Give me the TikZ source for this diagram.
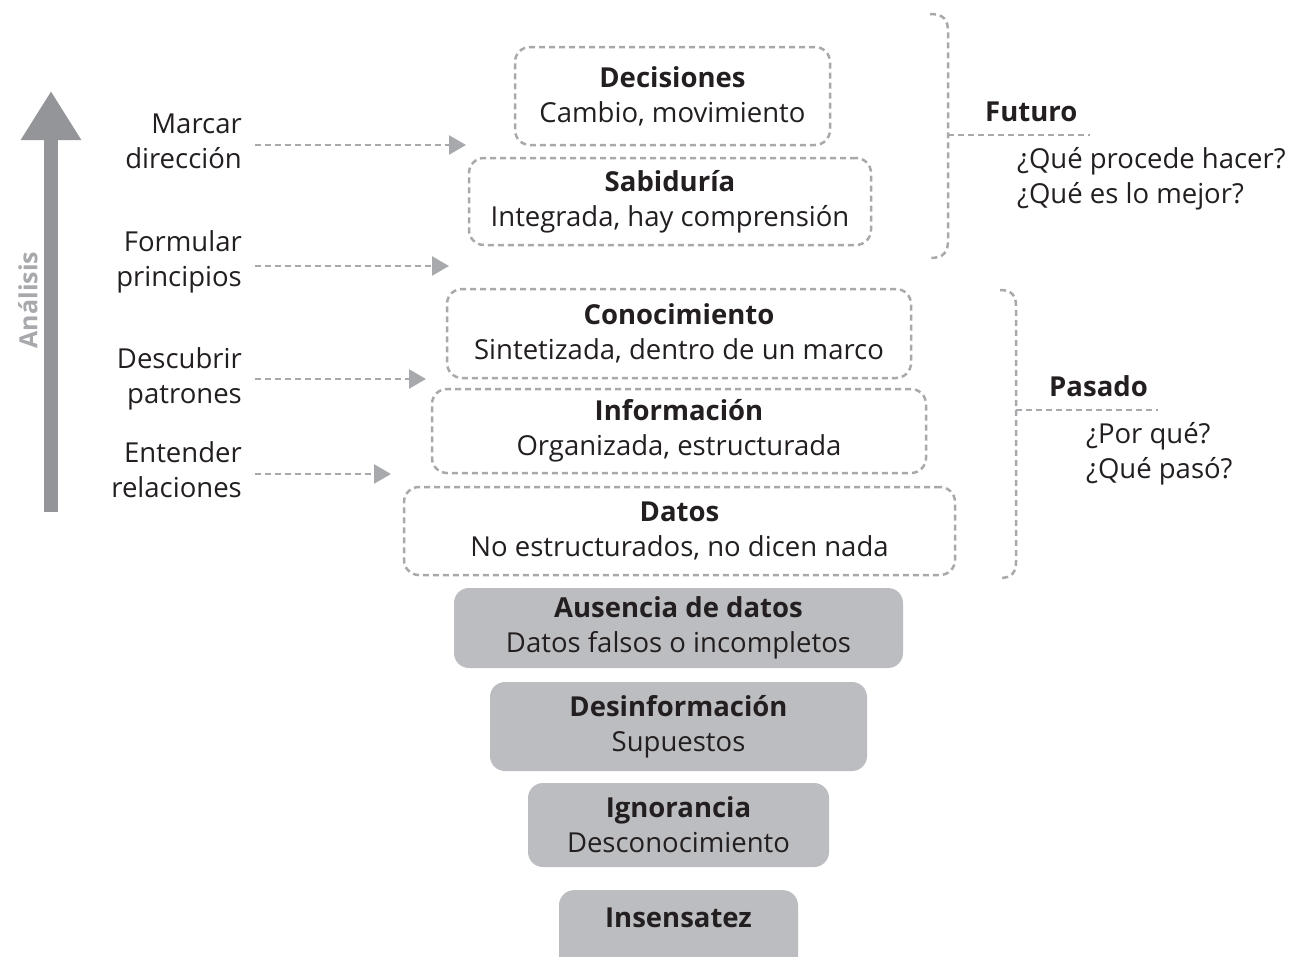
\documentclass[tikz,border=0pt]{standalone}
\usepackage{fontspec}
\setmainfont{Open Sans}
\usetikzlibrary{arrows.meta}
\definecolor{txt}{HTML}{231F20}
\definecolor{dashc}{HTML}{A7A9AC}
\definecolor{fillc}{HTML}{BCBDC0}
\definecolor{bigarrow}{HTML}{939598}
\tikzset{
  every node/.style={font=\fontsize{27.5}{35}\selectfont, text=txt},
  dbox/.style={draw=dashc, line width=2.5pt, dash pattern=on 6pt off 4pt, rounded corners=15pt, align=center, inner sep=0pt},
  gbox/.style={fill=fillc, draw=none, rounded corners=15pt, align=center, inner sep=0pt},
  lbl/.style={align=right, anchor=east, inner sep=0pt},
  darrow/.style={draw=dashc, line width=2.5pt, dash pattern=on 6pt off 4pt, -{Triangle[length=17pt,width=19pt]}},
  brace/.style={draw=dashc, line width=2.5pt, dash pattern=on 6pt off 4pt},
  qtext/.style={align=left, anchor=west, inner sep=0pt}
}
\begin{document}
\begin{tikzpicture}[x=1pt,y=-1pt]
\clip (0,0) rectangle (1306,956);
\fill[white] (0,0) rectangle (1306,956);
% dashed boxes
\node[dbox, minimum width=315, minimum height=98] (dec) at (672.5,96) {\textbf{Decisiones}\\Cambio, movimiento};
\node[dbox, minimum width=402, minimum height=87] (sab) at (670,201.5) {\textbf{Sabiduría}\\Integrada, hay comprensión};
\node[dbox, minimum width=464, minimum height=89] (con) at (679,333.5) {\textbf{Conocimiento}\\Sintetizada, dentro de un marco};
\node[dbox, minimum width=494, minimum height=84] (inf) at (679,431) {\textbf{Información}\\Organizada, estructurada};
\node[dbox, minimum width=551, minimum height=88] (dat) at (679.5,531) {\textbf{Datos}\\No estructurados, no dicen nada};
% filled boxes
\node[gbox, minimum width=449, minimum height=80] (aus) at (678.5,628) {\textbf{Ausencia de datos}\\Datos falsos o incompletos};
\node[gbox, minimum width=377, minimum height=89] (des) at (678.5,726.5) {\textbf{Desinformación}\\Supuestos};
\node[gbox, minimum width=301, minimum height=84] (ign) at (678.5,825) {\textbf{Ignorancia}\\Desconocimiento};
\node[gbox, minimum width=239, minimum height=90, anchor=north] (ins) at (678.5,890) {};
\node (inst) at (678.5,918) {\textbf{Insensatez}};
% left labels
\node[lbl] (l1) at (242,141) {Marcar\\dirección};
\node[lbl] (l2) at (242,262) {Formular\\principios};
\node[lbl] (l3) at (242,379) {Descubrir\\patrones};
\node[lbl] (l4) at (242,470) {Entender\\relaciones};
\coordinate (a1s) at (255,145); \coordinate (a1e) at (466,145);
\coordinate (a2s) at (255,266); \coordinate (a2e) at (449,266);
\coordinate (a3s) at (255,379); \coordinate (a3e) at (426,379);
\coordinate (a4s) at (255,474); \coordinate (a4e) at (391,474);
\draw[darrow] (a1s) -- (a1e);
\draw[darrow] (a2s) -- (a2e);
\draw[darrow] (a3s) -- (a3e);
\draw[darrow] (a4s) -- (a4e);
% big arrow
\coordinate (bs) at (51,512); \coordinate (be) at (51,91);
\draw[bigarrow, line width=14pt, -{Triangle[length=49pt,width=57pt]}] (bs) -- (be);
\node[rotate=90, text=dashc, font=\fontsize{25}{30}\selectfont] (ana) at (28,300) {\textbf{Análisis}};
% Futuro brace
\coordinate (f1) at (930,14); \coordinate (f2) at (930,258);
\coordinate (fm) at (948,135); \coordinate (fe) at (1090,135);
\draw[brace] (f1) .. controls (944,14) and (948,20) .. (948,32) -- (948,240) .. controls (948,252) and (944,258) .. (f2);
\draw[brace] (fm) -- (fe);
\node[anchor=west, inner sep=0pt] (fut) at (985,112) {\textbf{Futuro}};
\node[qtext] (futq) at (1017,179) {¿Qué procede hacer?\\¿Qué es lo mejor?};
% Pasado brace
\coordinate (p1) at (1000,290); \coordinate (p2) at (1000,578);
\coordinate (pm) at (1016,410); \coordinate (pe) at (1158,410);
\draw[brace] (p1) .. controls (1012,290) and (1016,296) .. (1016,306) -- (1016,562) .. controls (1016,572) and (1012,578) .. (p2);
\draw[brace] (pm) -- (pe);
\node[anchor=west, inner sep=0pt] (pas) at (1049,386) {\textbf{Pasado}};
\node[qtext] (pasq) at (1086,454) {¿Por qué?\\¿Qué pasó?};
\end{tikzpicture}
\end{document}
